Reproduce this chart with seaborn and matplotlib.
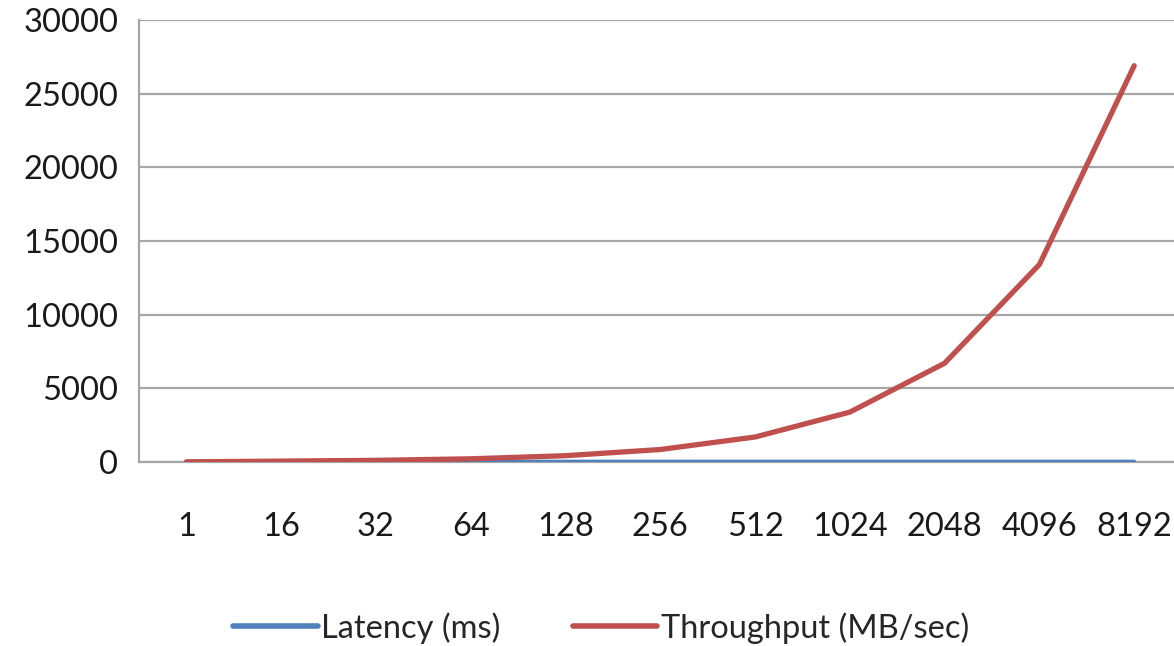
import numpy as np
import pandas as pd
import matplotlib
matplotlib.use("Agg")
import matplotlib.pyplot as plt
import seaborn as sns
from matplotlib.ticker import FixedLocator, NullFormatter
from matplotlib.lines import Line2D

# dados
tamanhos = ["1", "16", "32", "64", "128", "256", "512", "1024", "2048", "4096", "8192"]
latencia = [0.30, 0.30, 0.30, 0.30, 0.30, 0.30, 0.30, 0.30, 0.30, 0.31, 0.30]
throughput = [3, 53, 106, 210, 420, 840, 1690, 3380, 6700, 13400, 26900]
series = ["Latency (ms)", "Throughput (MB/sec)"]
cores = ["#4F81BD", "#C0504D"]

dados = pd.DataFrame({
    "tamanho": tamanhos * 2,
    "valor": latencia + throughput,
    "serie": [series[0]] * len(tamanhos) + [series[1]] * len(tamanhos),
})

sns.set_style("white")
plt.rcParams["font.family"] = ["Lato", "DejaVu Sans"]

fig = plt.figure(figsize=(11.74, 6.46), dpi=100)
ax = fig.add_axes([0.1184, 0.285, 0.8816, 0.684])

sns.lineplot(data=dados, x="tamanho", y="valor", hue="serie", palette=cores,
             sort=False, ax=ax, legend=False)
ax.lines[0].set_linewidth(3.2)
ax.lines[1].set_linewidth(3.8)
ax.lines[0].set_zorder(3)
ax.lines[1].set_zorder(4)

ax.set_ylim(0, 30000)
ax.set_xlim(-0.5, 10.42)
ax.set_yticks(np.arange(0, 30001, 5000))
ax.yaxis.grid(True, color="#a6a6a6", linewidth=1.6)
ax.set_axisbelow(True)
ax.set_xlabel("")
ax.set_ylabel("")

# ticks do eixo x entre as categorias (estilo Excel)
ax.xaxis.set_minor_locator(FixedLocator(np.arange(0.5, 10, 1)))
ax.xaxis.set_minor_formatter(NullFormatter())
ax.tick_params(axis="x", which="major", length=0, labelsize=23.5, pad=36, colors="#1a1a1a")
ax.tick_params(axis="x", which="minor", length=9, width=1.6, color="#a6a6a6", direction="out")
ax.tick_params(axis="y", length=10, width=1.6, color="#a6a6a6", labelsize=23.5, pad=5,
               labelcolor="#1a1a1a")

for lado in ["top", "right"]:
    ax.spines[lado].set_visible(False)
ax.spines["left"].set_color("#a6a6a6")
ax.spines["left"].set_linewidth(1.6)
ax.spines["bottom"].set_color("#a6a6a6")
ax.spines["bottom"].set_linewidth(1.6)

handles = [Line2D([0], [0], color=c, linewidth=4) for c in cores]
fig.legend(handles, series, loc="center", bbox_to_anchor=(0.512, 0.028),
           ncol=2, frameon=False, fontsize=23.5, handlelength=2.6, handletextpad=0.1,
           columnspacing=2.2)

fig.savefig("out.png", dpi=100)
